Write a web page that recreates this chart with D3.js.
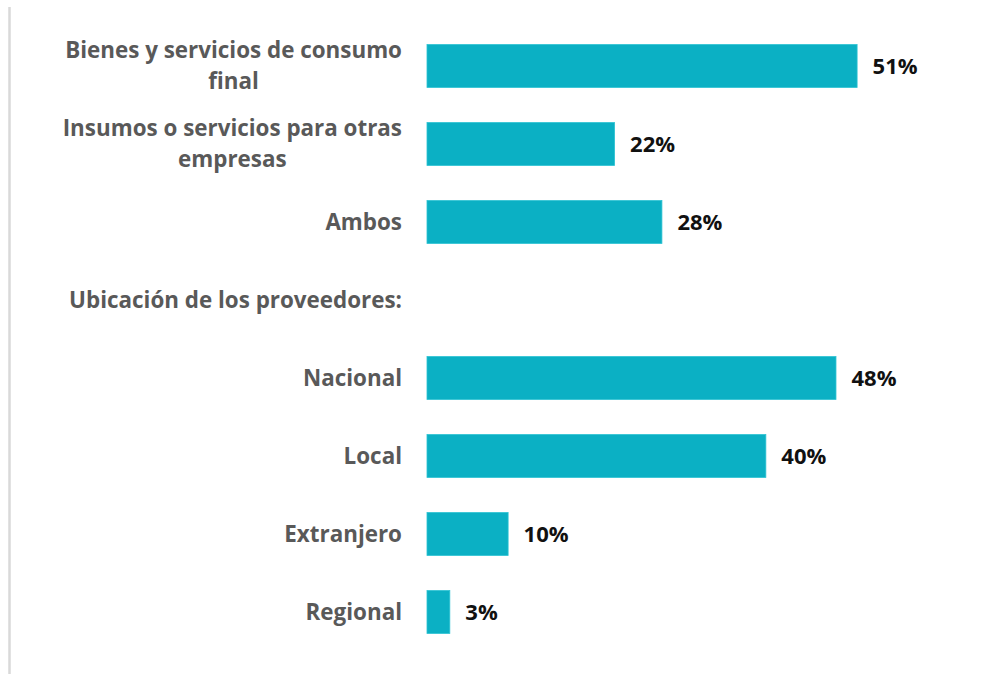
<!DOCTYPE html>
<html>
<head>
<meta charset="utf-8">
<script src="https://cdn.jsdelivr.net/npm/d3@7"></script>
<style>
  html, body { margin: 0; padding: 0; background: #ffffff; }
  svg { display: block; }
</style>
</head>
<body>
<svg id="chart" width="992" height="675"></svg>
<script>
const categories = [
  "Bienes y servicios de consumo final",
  "Insumos o servicios para otras empresas",
  "Ambos",
  "Ubicación de los proveedores:",
  "Nacional",
  "Local",
  "Extranjero",
  "Regional"
];
const values = [50.9, 22.2, 27.8, null, 48.4, 40.1, 9.6, 2.7];
const valueLabels = ["51%", "22%", "28%", "", "48%", "40%", "10%", "3%"];

const svg = d3.select("#chart");
const fontFamily = "'Open Sans', sans-serif";
const fontSize = 22.4;
const labelRight = 402;
const lineHeight = 31;
const capHalf = 7.9;

const y = d3.scaleBand().domain(categories).range([27, 651]).paddingInner(0.45).paddingOuter(0.225);
const x = d3.scaleLinear().domain([0, 60]).range([427, 934]);

// left border line
svg.append("line")
  .attr("x1", 9.5).attr("x2", 9.5).attr("y1", 7).attr("y2", 674)
  .attr("stroke", "#d9d9d9").attr("stroke-width", 2.5);

const data = categories.map((c, i) => ({ cat: c, value: values[i], label: valueLabels[i] }));

// bars
svg.append("g").selectAll("rect")
  .data(data.filter(d => d.value != null))
  .join("rect")
  .attr("x", x(0))
  .attr("y", d => y(d.cat))
  .attr("width", d => x(d.value) - x(0))
  .attr("height", y.bandwidth())
  .attr("fill", "#0bb0c4")
  .attr("stroke", "#2cc3d3")
  .attr("stroke-width", 0.8);

// value labels
svg.append("g").selectAll("text")
  .data(data.filter(d => d.value != null))
  .join("text")
  .attr("x", d => x(d.value) + 15.5)
  .attr("y", d => y(d.cat) + y.bandwidth() / 2 + capHalf)
  .attr("font-family", fontFamily)
  .attr("font-size", 22)
  .attr("font-weight", "bold")
  .attr("fill", "#111111")
  .text(d => d.label);

// category labels with wrapping (block right-aligned, lines centred within block)
const maxWidth = 352;
const labelG = svg.append("g");
data.forEach(d => {
  const t = labelG.append("text")
    .attr("text-anchor", "middle")
    .attr("font-family", fontFamily)
    .attr("font-size", fontSize)
    .attr("font-weight", "bold")
    .attr("fill", "#595959");
  const words = d.cat.split(" ");
  const lines = [];
  let line = [];
  const probe = t.append("tspan");
  const measure = s => { probe.text(s); return probe.node().getComputedTextLength(); };
  words.forEach(w => {
    const test = line.concat([w]).join(" ");
    if (measure(test) > maxWidth && line.length) {
      lines.push(line.join(" "));
      line = [w];
    } else {
      line.push(w);
    }
  });
  lines.push(line.join(" "));
  const blockW = d3.max(lines, l => measure(l));
  probe.remove();
  const cx = labelRight - blockW / 2;
  const cy = y(d.cat) + y.bandwidth() / 2;
  const first = cy - (lines.length - 1) * lineHeight / 2 + capHalf;
  lines.forEach((l, i) => {
    t.append("tspan")
      .attr("x", cx)
      .attr("y", first + i * lineHeight)
      .text(l);
  });
});
</script>
</body>
</html>
